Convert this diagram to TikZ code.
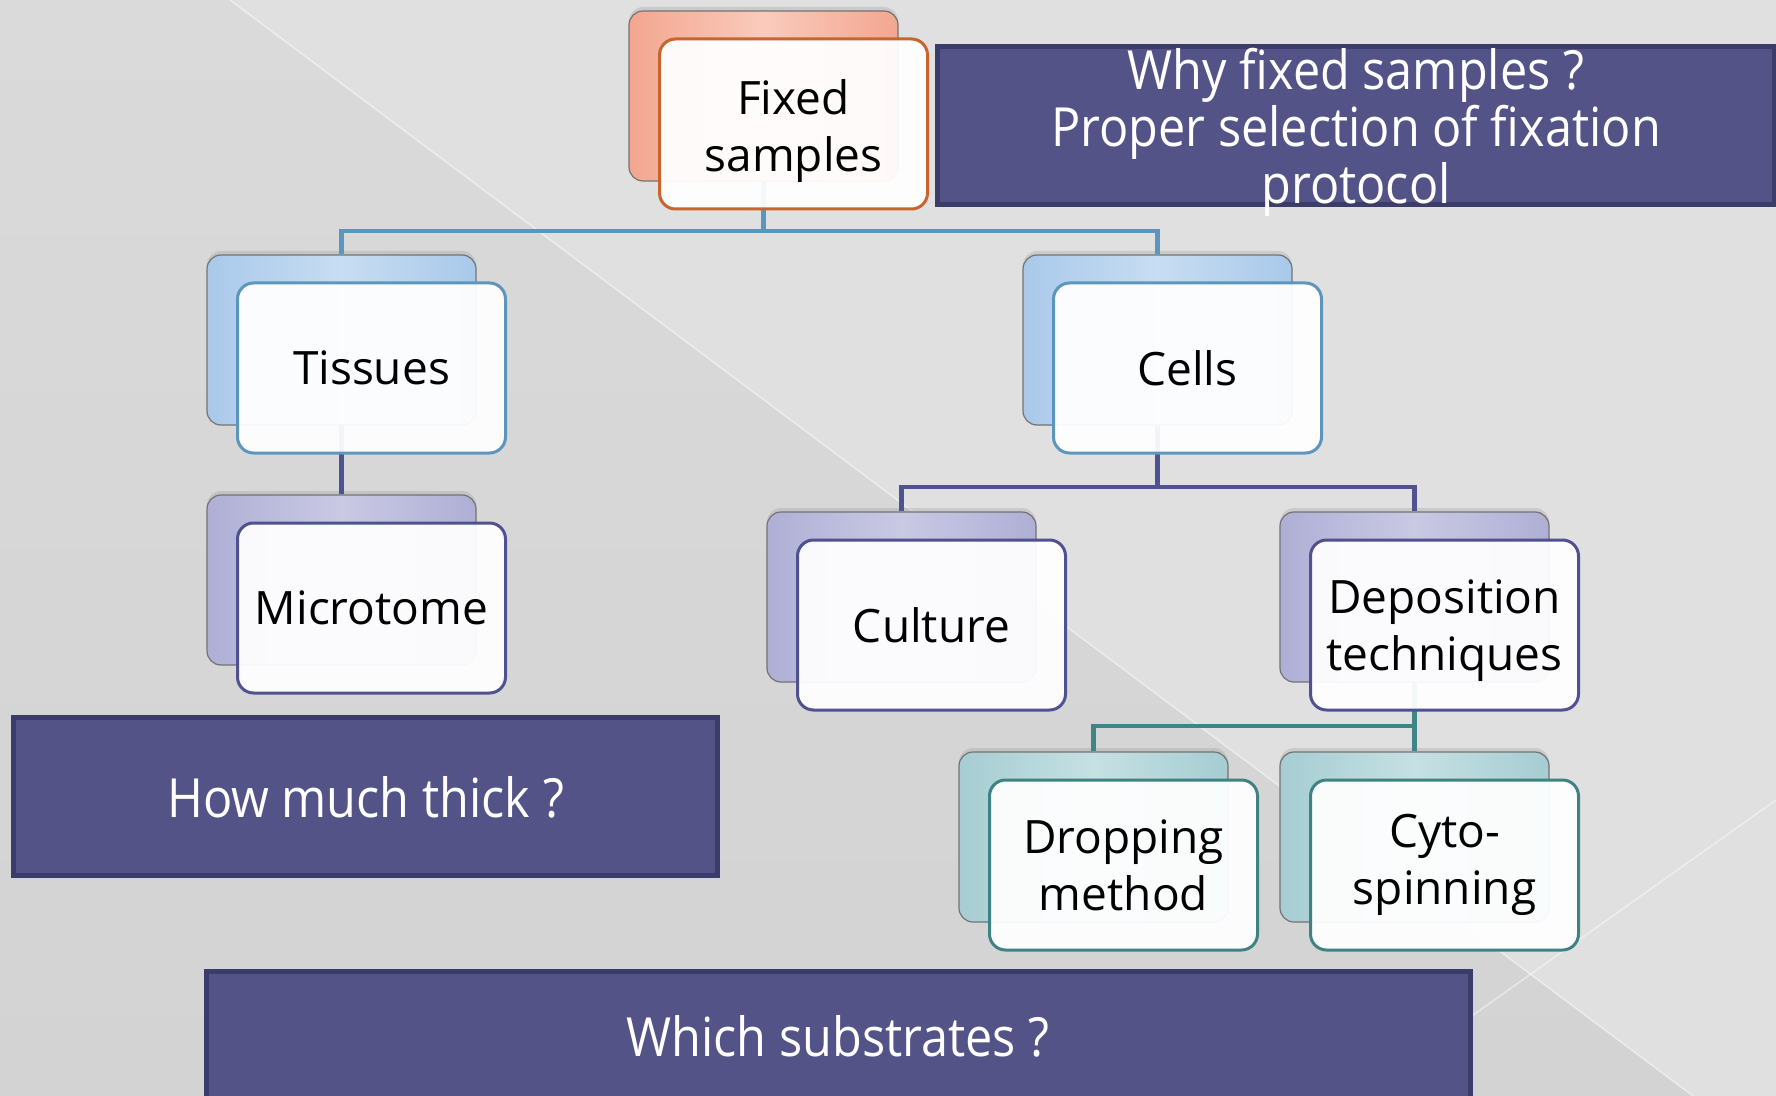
\documentclass[tikz,border=0pt]{standalone}
\usepackage{fontspec}
\setmainfont{Open Sans}
\newfontfamily\labfont{Open Sans}
\newfontfamily\qfont[FakeStretch=0.9]{Open Sans}
\usetikzlibrary{shadows}
\definecolor{bgdark}{HTML}{D3D3D3}
\definecolor{bgdarktop}{HTML}{DADADA}
\definecolor{bglight}{HTML}{E0E0E0}
\definecolor{qfill}{HTML}{535388}
\definecolor{qborder}{HTML}{3C3C6A}
\definecolor{salmonA}{HTML}{F3A690}
\definecolor{salmonB}{HTML}{FACBBC}
\definecolor{orangeline}{HTML}{C8652E}
\definecolor{blueA}{HTML}{A9C9EA}
\definecolor{blueB}{HTML}{C7DDF2}
\definecolor{blueline}{HTML}{5C96BD}
\definecolor{lavA}{HTML}{AFAFD6}
\definecolor{lavB}{HTML}{C9C9E4}
\definecolor{lavline}{HTML}{4F5190}
\definecolor{tealA}{HTML}{A5CDD2}
\definecolor{tealB}{HTML}{C6E0E3}
\definecolor{tealline}{HTML}{3F8284}
\definecolor{conblue}{HTML}{5A96BE}
\definecolor{conlav}{HTML}{4F5190}
\definecolor{conteal}{HTML}{3F8585}
\tikzset{
  backbox/.style={rounded corners=7pt, minimum width=134.5pt, minimum height=85pt,
    draw=black!55, line width=0.6pt, inner sep=0pt,
    drop shadow={shadow xshift=0pt, shadow yshift=2pt, opacity=0.22}},
  salmonback/.style={backbox, left color=salmonA, right color=salmonA, middle color=salmonB},
  blueback/.style={backbox, left color=blueA, right color=blueA, middle color=blueB},
  lavback/.style={backbox, left color=lavA, right color=lavA, middle color=lavB},
  tealback/.style={backbox, left color=tealA, right color=tealA, middle color=tealB},
  frontbox/.style={rounded corners=8pt, minimum width=134pt, minimum height=85pt,
    fill=white, fill opacity=0.94, text opacity=1, line width=1.5pt, align=center,
    inner sep=3pt, text width=128pt,
    font=\labfont\fontsize{23}{28.5}\selectfont},
  qbox/.style={fill=qfill, draw=qborder, line width=2.5pt, inner sep=0pt},
  qtext/.style={text=white, align=center, inner sep=0pt,
    font=\qfont\fontsize{27}{28.5}\selectfont},
  conn/.style={line width=2.4pt}
}
\begin{document}
\begin{tikzpicture}[x=0.5pt,y=-0.5pt]
\clip (0,0) rectangle (1776,1096);
% background
\shade[top color=bgdarktop, bottom color=bgdark] (0,0) rectangle (1776,1096);
\fill[bglight] (230,0) -- (1776,0) -- (1776,1096) -- (1693,1096) -- cycle;
\draw[white, opacity=0.45, line width=0.8pt] (230,0) -- (1693,1096);
\draw[white, opacity=0.45, line width=0.8pt] (1776,800) -- (1359,1096);

% junctions
\coordinate (j1) at (763.5,231);
\coordinate (j2) at (1157.5,487);
\coordinate (j3) at (1414.5,726);

% back boxes
\node[salmonback] (fixB) at (763.5,96) {};
\node[blueback] (tisB) at (341.5,340) {};
\node[blueback] (celB) at (1157.5,340) {};
\node[lavback] (micB) at (341.5,580) {};
\node[lavback] (culB) at (901.5,597) {};
\node[lavback] (depB) at (1414.5,597) {};
\node[tealback] (droB) at (1093.5,837) {};
\node[tealback] (cytB) at (1414.5,837) {};

% connectors
\draw[conn, conblue] (fixB.south) -- (j1);
\draw[conn, conblue] (tisB.north) |- (j1) -| (celB.north);
\draw[conn, conlav] (tisB.south) -- (micB.north);
\draw[conn, conlav] (celB.south) -- (j2);
\draw[conn, conlav] (culB.north) |- (j2) -| (depB.north);
\draw[conn, conteal] (depB.south) -- (j3);
\draw[conn, conteal] (droB.north) |- (j3) -- (cytB.north);

% front boxes
\node[frontbox, draw=orangeline] (fix) at (793.5,124) {};
\node[text width=128pt, align=center, inner sep=0pt, font=\labfont\fontsize{23}{28.5}\selectfont] (fixtext) at (793.5,131) {Fixed\\samples};
\node[frontbox, draw=blueline] (tis) at (371.5,368) {Tissues};
\node[frontbox, draw=blueline] (cel) at (1187.5,368) {Cells};
\node[frontbox, draw=lavline] (mic) at (371.5,608) {Microtome};
\node[frontbox, draw=lavline] (cul) at (931.5,625) {Culture};
\node[frontbox, draw=lavline] (dep) at (1444.5,625) {};
\node[text width=128pt, align=center, inner sep=0pt, font=\labfont\fontsize{23}{28.5}\selectfont] (deptext) at (1444.5,631) {Deposition\\techniques};
\node[frontbox, draw=tealline] (dro) at (1123.5,865) {Dropping\\method};
\node[frontbox, draw=tealline] (cyt) at (1444.5,865) {Cyto-\\spinning};

% question boxes
\node[qbox, minimum width=418.75pt, minimum height=79pt] (why) at (1356,126) {};
\node[qtext] (whytext) at (1356,132)
  {Why fixed samples ?\\Proper selection of fixation\\protocol};
\node[qbox, minimum width=352pt, minimum height=79pt] (thick) at (365.5,796.5) {};
\node[qtext] (thicktext) at (365.5,797) {How much thick ?};
\node[qbox, minimum width=632pt, minimum height=70pt] (subs) at (838,1041) {};
\node[qtext] (substext) at (838,1036) {Which substrates ?};
\end{tikzpicture}
\end{document}
